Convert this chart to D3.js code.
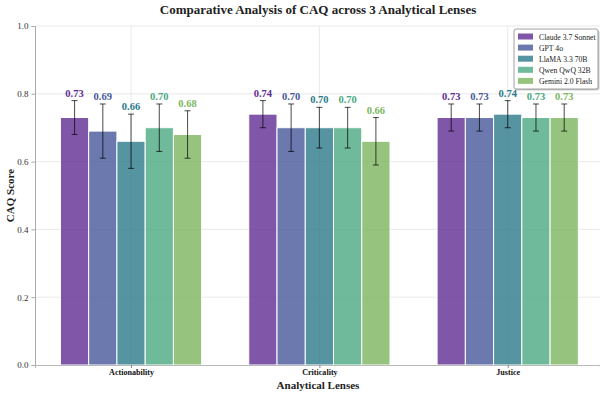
<!DOCTYPE html>
<html>
<head>
<meta charset="utf-8">
<script src="https://cdn.jsdelivr.net/npm/d3@7"></script>
<style>
  html, body { margin: 0; padding: 0; background: #fff; }
  svg { display: block; }
  svg text { font-family: "Liberation Serif", "Times New Roman", serif; }
</style>
</head>
<body>
<svg id="chart" width="600" height="394"></svg>
<script>
// Analytical lenses (x categories)
const lenses = ["Actionability", "Criticality", "Justice"];
// Models (series)
const models = ["Claude 3.7 Sonnet", "GPT 4o", "LlaMA 3.3 70B", "Qwen QwQ 32B", "Gemini 2.0 Flash"];
const modelColors = ["#602c92", "#46589a", "#2a7988", "#4aa981", "#7cb55e"];
// Mean CAQ score per model, one entry per lens
const claudeScores = [0.73, 0.74, 0.73];
const gptScores    = [0.69, 0.70, 0.73];
const llamaScores  = [0.66, 0.70, 0.74];
const qwenScores   = [0.70, 0.70, 0.73];
const geminiScores = [0.68, 0.66, 0.73];
// Standard deviations (error bars)
const claudeErr = [0.05, 0.04, 0.04];
const gptErr    = [0.08, 0.07, 0.04];
const llamaErr  = [0.08, 0.06, 0.04];
const qwenErr   = [0.07, 0.06, 0.04];
const geminiErr = [0.07, 0.07, 0.04];
const yTicks = [0.0, 0.2, 0.4, 0.6, 0.8, 1.0];

const scores = [claudeScores, gptScores, llamaScores, qwenScores, geminiScores];
const errs = [claudeErr, gptErr, llamaErr, qwenErr, geminiErr];
const SERIF = "Liberation Serif, Times New Roman, serif";

const svg = d3.select("#chart");
const margin = { left: 35, right: 0, top: 26, bottom: 29 };
const W = 600, H = 394;
const barW = 0.15;

const x = d3.scaleLinear().domain([-0.51, 2.49]).range([margin.left, W - margin.right]);
const y = d3.scaleLinear().domain([0, 1]).range([H - margin.bottom, margin.top]);

// grid
const grid = svg.append("g");
grid.selectAll("line.h").data(yTicks.slice(1)).join("line")
  .attr("x1", x.range()[0]).attr("x2", x.range()[1])
  .attr("y1", d => y(d)).attr("y2", d => y(d))
  .attr("stroke", "#e3e3e3").attr("stroke-width", 0.8);
grid.selectAll("line.v").data(lenses).join("line")
  .attr("x1", (d, i) => x(i)).attr("x2", (d, i) => x(i))
  .attr("y1", y(0)).attr("y2", y(1))
  .attr("stroke", "#e3e3e3").attr("stroke-width", 0.8);

// bars
const rows = [];
models.forEach((m, mi) => lenses.forEach((l, li) => {
  rows.push({ mi, li, v: scores[mi][li], e: errs[mi][li] });
}));
const cx = d => x(d.li + (d.mi - 2) * barW);

svg.append("g").selectAll("rect").data(rows).join("rect")
  .attr("x", d => x(d.li + (d.mi - 2.5) * barW))
  .attr("width", d => x(barW) - x(0))
  .attr("y", d => y(d.v))
  .attr("height", d => y(0) - y(d.v))
  .attr("fill", d => modelColors[d.mi])
  .attr("fill-opacity", 0.8)
  .attr("stroke", "#fff").attr("stroke-width", 1);

// error bars
const eb = svg.append("g").attr("stroke", "#000").attr("stroke-opacity", 0.65).attr("stroke-width", 1.1);
eb.selectAll("line.s").data(rows).join("line")
  .attr("x1", cx).attr("x2", cx)
  .attr("y1", d => y(d.v - d.e)).attr("y2", d => y(d.v + d.e));
eb.selectAll("line.t").data(rows).join("line")
  .attr("x1", d => cx(d) - 3).attr("x2", d => cx(d) + 3)
  .attr("y1", d => y(d.v + d.e)).attr("y2", d => y(d.v + d.e));
eb.selectAll("line.b").data(rows).join("line")
  .attr("x1", d => cx(d) - 3).attr("x2", d => cx(d) + 3)
  .attr("y1", d => y(d.v - d.e)).attr("y2", d => y(d.v - d.e));

// value labels
svg.append("g").selectAll("text").data(rows).join("text")
  .attr("x", cx)
  .attr("y", d => y(d.v + d.e) - 4)
  .attr("text-anchor", "middle")
  .attr("font-family", SERIF)
  .attr("font-size", 10.5).attr("font-weight", "bold")
  .attr("fill", d => modelColors[d.mi])
  .text(d => d.v.toFixed(2));

// axes
const yAxis = svg.append("g").attr("transform", `translate(${margin.left},0)`)
  .call(d3.axisLeft(y).tickValues(yTicks).tickFormat(d3.format(".1f")).tickSize(3.5).tickPadding(3));
yAxis.attr("font-family", SERIF);
yAxis.select(".domain").attr("stroke", "#aaa").attr("stroke-width", 1);
yAxis.selectAll(".tick line").attr("stroke", "#aaa");
yAxis.selectAll("text").attr("font-size", 9).attr("fill", "#333");

const xAxis = svg.append("g").attr("transform", `translate(0,${y(0)})`)
  .call(d3.axisBottom(x).tickValues([0, 1, 2]).tickFormat(i => lenses[i]).tickSize(3).tickPadding(1.5));
xAxis.attr("font-family", SERIF);
xAxis.select(".domain").attr("stroke", "#bbb").attr("stroke-width", 1.2);
xAxis.selectAll(".tick line").attr("stroke", "#888");
xAxis.selectAll("text").attr("font-size", 8.1).attr("font-weight", "bold").attr("fill", "#111");

// titles
svg.append("text").attr("x", 318).attr("y", 14).attr("text-anchor", "middle")
  .attr("font-family", SERIF)
  .attr("font-size", 13).attr("font-weight", "bold").attr("fill", "#222")
  .text("Comparative Analysis of CAQ across 3 Analytical Lenses");
svg.append("text").attr("x", 318).attr("y", 389).attr("text-anchor", "middle")
  .attr("font-family", SERIF)
  .attr("font-size", 11).attr("font-weight", "bold").attr("fill", "#222")
  .text("Analytical Lenses");
svg.append("text").attr("transform", `translate(14,${(y(0) + y(1)) / 2}) rotate(-90)`)
  .attr("text-anchor", "middle")
  .attr("font-family", SERIF)
  .attr("font-size", 11).attr("font-weight", "bold").attr("fill", "#222")
  .text("CAQ Score");

// legend
const lg = svg.append("g").attr("transform", "translate(514,29)");
lg.append("rect").attr("x", 1.5).attr("y", 1.5).attr("width", 84).attr("height", 60).attr("rx", 2)
  .attr("fill", "#999").attr("opacity", 0.5);
lg.append("rect").attr("width", 84).attr("height", 60).attr("rx", 2)
  .attr("fill", "#fff").attr("stroke", "#888").attr("stroke-width", 0.8);
models.forEach((m, i) => {
  const gy = 7.5 + i * 11.1;
  lg.append("rect").attr("x", 4).attr("y", gy - 3).attr("width", 15).attr("height", 6)
    .attr("fill", modelColors[i]).attr("fill-opacity", 0.8);
  lg.append("text").attr("x", 25).attr("y", gy + 3)
    .attr("font-family", SERIF)
    .attr("font-size", 7.7).attr("fill", "#222")
    .text(m);
});
</script>
</body>
</html>
